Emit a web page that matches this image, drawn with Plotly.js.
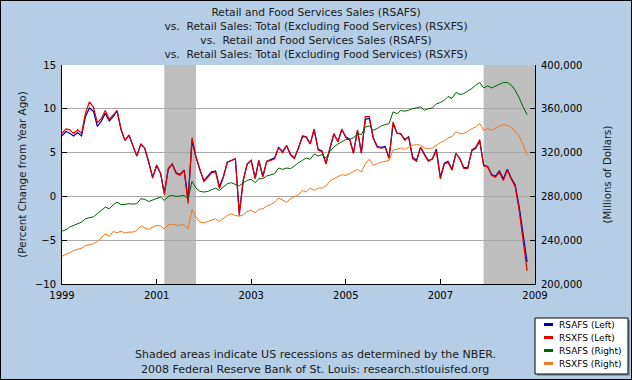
<!DOCTYPE html>
<html>
<head>
<meta charset="utf-8">
<script src="https://cdn.plot.ly/plotly-3.0.1.min.js"></script>
<style>
html,body{margin:0;padding:0;background:#B5CDE5;}
#chart{width:630px;height:378px;border:1px solid #000;}
</style>
</head>
<body>
<div id="chart"></div>
<script>
// ---------- DATA ----------
const startMonth = '1999-01'; // monthly observations, Jan 1999 .. Nov 2008
const rsafsPct = [6.9,7.4,7.2,6.9,7.3,6.9,9.1,10.1,9.7,8.0,8.6,9.5,
  8.6,9.1,9.8,7.6,6.4,7.0,5.8,4.6,6.0,5.5,3.9,2.2,
  3.5,2.6,0.4,3.1,3.7,2.7,2.5,3.0,-0.3,6.3,4.5,3.0,
  1.8,2.3,2.8,2.9,1.1,2.3,3.9,4.1,4.3,-1.9,1.9,3.7,
  4.1,2.1,4.1,2.3,4.0,4.2,4.4,5.6,5.1,5.8,4.8,4.4,
  5.5,6.9,6.8,6.0,7.6,5.4,5.2,3.8,5.6,7.1,6.3,7.6,
  6.8,6.5,5.0,7.5,5.0,8.8,8.9,6.7,5.7,5.6,5.7,4.4,
  8.3,7.2,7.1,6.5,6.8,4.5,4.1,5.6,4.8,4.1,4.3,5.4,
  2.2,3.8,4.0,3.1,4.9,4.3,3.3,3.3,5.2,5.5,6.3,3.6,
  3.4,2.5,2.3,2.9,2.0,3.1,2.1,1.3,-1.2,-4.3,-7.5];
const rsxfsPct = [7.2,7.7,7.6,7.2,7.6,7.2,9.5,10.8,10.2,8.4,8.9,9.8,
  8.8,9.3,9.8,7.7,6.4,7.0,5.8,4.6,6.0,5.5,3.9,2.1,
  3.6,2.6,0.2,3.2,3.7,2.6,2.4,3.0,-0.8,6.7,4.5,3.0,
  1.7,2.2,2.7,2.8,0.9,2.2,3.9,4.1,4.3,-2.2,1.8,3.7,
  4.1,2.0,4.1,2.2,4.0,4.1,4.3,5.6,5.0,5.8,4.7,4.3,
  5.5,6.8,6.8,6.0,7.7,5.3,5.1,3.7,5.6,7.2,6.2,7.7,
  6.7,6.4,4.9,7.6,4.9,9.1,9.1,6.6,5.6,5.5,5.6,4.3,
  8.5,7.2,7.2,6.4,6.8,4.3,4.0,5.6,4.7,4.0,4.3,5.2,
  2.0,3.7,3.9,3.0,4.9,4.3,3.2,3.2,5.3,5.6,6.5,3.5,
  3.4,2.4,2.2,2.8,1.8,3.0,2.0,1.1,-1.6,-4.8,-8.5];
const rsafsLevel = [248300,249500,252000,253500,255600,256500,259600,260200,261400,264100,267200,270200,
  268700,272400,274800,272400,272700,273300,273000,273300,277900,277300,275400,276600,
  278500,279400,276300,280000,280900,280000,280300,280900,277900,293700,287600,284600,
  284000,284600,286100,287600,285500,288500,291600,292500,290700,289500,292500,294600,
  295600,292500,296200,296200,298600,299800,300700,305900,304700,305900,305300,307800,
  310800,312900,315100,313900,318700,316900,318100,315100,321200,325100,327900,329700,
  331900,332200,333400,337300,336400,343400,344400,340400,341900,344400,345600,346500,
  357200,355600,358400,357800,358700,360200,360800,361700,358700,360200,360800,364500,
  365700,367800,371200,369400,374900,373000,373900,376100,378500,381600,384000,379100,
  380900,379100,380900,382200,384000,384000,381600,377000,370000,361700,354700];
const rsxfsLevel = [225400,226900,228500,230600,231500,232700,235200,236100,236700,238800,242800,245800,
  243700,248000,246800,248300,246500,247400,247400,248900,252900,251300,249800,251900,
  253500,252900,250400,254100,254700,253500,253500,254100,250400,268100,261100,256500,
  255900,257100,258000,259600,257100,260200,262600,264100,262600,262000,263200,266300,
  267200,265100,268100,268700,271200,272400,274800,278500,276300,274800,277900,279400,
  281500,285500,284000,287600,285500,287600,287600,289500,294300,296200,297700,299800,
  299200,300700,302900,304700,302300,309900,313900,308400,309900,311400,312000,312900,
  322100,323000,324200,323000,324800,326700,327300,326700,324200,323600,324200,326700,
  329100,330900,333400,334600,338900,337300,337300,339500,341900,343400,346500,340400,
  341900,340400,342500,344100,345600,344900,343100,339500,335200,327300,316900];
const recessionStart = ['2001-03-01','2007-12-01'];
const recessionEnd   = ['2001-11-01','2009-01-01'];
const xTickVals = ['1999-01-01','2001-01-01','2003-01-01','2005-01-01','2007-01-01','2009-01-01'];
const xTickText = ['1999','2001','2003','2005','2007','2009'];
const yLeftTicks = [-10,-5,0,5,10,15];
const yRightTicks = [200000,240000,280000,320000,360000,400000];
const yRightText = ['200,000','240,000','280,000','320,000','360,000','400,000'];
const seriesNames = ['RSAFS (Left)','RSXFS (Left)','RSAFS (Right)','RSXFS (Right)'];
const seriesColors = ['#0000AA','#E00000','#006400','#F07820'];
const titleLines = ['Retail and Food Services Sales (RSAFS)',
  'vs.\u00a0 Retail Sales: Total (Excluding Food Services) (RSXFS)',
  'vs.\u00a0 Retail and Food Services Sales (RSAFS)',
  'vs.\u00a0 Retail Sales: Total (Excluding Food Services) (RSXFS)'];
const noteLines = ['Shaded areas indicate US recessions as determined by the NBER.',
  '2008 Federal Reserve Bank of St. Louis: research.stlouisfed.org'];

// ---------- BUILD ----------
const dates = [];
(function(){
  let y = +startMonth.slice(0,4), m = +startMonth.slice(5,7);
  for (let i = 0; i < rsafsPct.length; i++) {
    dates.push(y + '-' + String(m).padStart(2,'0') + '-01');
    m++; if (m > 12) { m = 1; y++; }
  }
})();

const W = 630, H = 378;
const M = {l:61, r:96, t:64, b:95};
const pw = W - M.l - M.r, ph = H - M.t - M.b;
// page pixel -> paper coordinates (div is offset by 1px border)
const px = x => (x - 1 - M.l) / pw;
const py = y => (M.t + ph - (y - 1)) / ph;

const FONT = 'DejaVu Sans, Verdana, sans-serif';

const traces = [
  {x: dates, y: rsafsLevel, yaxis:'y2', name: seriesNames[2], line:{color:seriesColors[2], width:1}},
  {x: dates, y: rsxfsLevel, yaxis:'y2', name: seriesNames[3], line:{color:seriesColors[3], width:1}},
  {x: dates, y: rsafsPct, yaxis:'y', name: seriesNames[0], line:{color:seriesColors[0], width:1.2}},
  {x: dates, y: rsxfsPct, yaxis:'y', name: seriesNames[1], line:{color:seriesColors[1], width:1.2}}
].map(t => Object.assign({type:'scatter', mode:'lines', showlegend:false, hoverinfo:'skip'}, t));

const shapes = [];
for (let i = 0; i < recessionStart.length; i++) {
  shapes.push({type:'rect', xref:'x', yref:'paper', x0:recessionStart[i], x1:recessionEnd[i], y0:0, y1:1,
    fillcolor:'#BEBEBE', line:{width:0}, layer:'between'});
}
// legend box with shadow
const lg = {x0:535, x1:628, y0:318, y1:374};
shapes.push({type:'rect', xref:'paper', yref:'paper', x0:px(lg.x0+2), x1:px(lg.x1+2), y0:py(lg.y1+2), y1:py(lg.y0+2),
  fillcolor:'#8C9AA8', line:{width:0}, layer:'above'});
shapes.push({type:'rect', xref:'paper', yref:'paper', x0:px(lg.x0), x1:px(lg.x1), y0:py(lg.y1), y1:py(lg.y0),
  fillcolor:'#FFFFFF', line:{color:'#000', width:1}, layer:'above'});
const legendOrder = [0,1,2,3];
const rowY = [324.5, 337.5, 350.5, 363.5];
const annotations = [];
legendOrder.forEach((s, i) => {
  shapes.push({type:'line', xref:'paper', yref:'paper', x0:px(544), x1:px(553), y0:py(rowY[i]), y1:py(rowY[i]),
    line:{color:seriesColors[s], width:3}, layer:'above'});
  annotations.push({xref:'paper', yref:'paper', x:px(557), y:py(rowY[i]), xanchor:'left', yanchor:'middle',
    text:seriesNames[s], showarrow:false, font:{family:FONT, size:9, color:'#000'}});
});
annotations.push({xref:'paper', yref:'paper', x:px(315), y:py(354), xanchor:'center', yanchor:'middle',
  text:noteLines[0], showarrow:false, font:{family:FONT, size:11, color:'#202020'}});
annotations.push({xref:'paper', yref:'paper', x:px(315), y:py(369), xanchor:'center', yanchor:'middle',
  text:noteLines[1], showarrow:false, font:{family:FONT, size:11, color:'#202020'}});

const axisCommon = {ticks:'inside', ticklen:5, tickcolor:'#000', tickwidth:1, showline:true, linecolor:'#000',
  linewidth:1, zeroline:false, tickfont:{family:FONT, size:10, color:'#000'}, fixedrange:true};

const layout = {
  width: W, height: H, margin: M,
  paper_bgcolor:'#B5CDE5', plot_bgcolor:'#FFFFFF',
  font:{family:FONT, color:'#000'},
  title:{text:titleLines.join('<br>'), font:{family:FONT, size:10.7, color:'#202020'},
    x:0.5, xref:'container', xanchor:'center', y:1-15/H, yref:'container', yanchor:'top'},
  xaxis: Object.assign({}, axisCommon, {type:'date', range:['1999-01-01','2009-01-01'],
    tickmode:'array', tickvals:xTickVals, ticktext:xTickText, showgrid:false, ticklabelstandoff:2}),
  yaxis: Object.assign({}, axisCommon, {range:[-10,15], tickmode:'array', tickvals:yLeftTicks,
    showgrid:true, gridcolor:'#A8A8A8', gridwidth:1, ticklabelstandoff:3,
    title:{text:'(Percent Change from Year Ago)', font:{family:FONT, size:10.4, color:'#202020'}, standoff:6}}),
  yaxis2: Object.assign({}, axisCommon, {overlaying:'y', side:'right', range:[200000,400000], tickmode:'array',
    tickvals:yRightTicks, ticktext:yRightText, showgrid:false, ticklabelstandoff:3,
    title:{text:'(Millions of Dollars)', font:{family:FONT, size:10.2, color:'#202020'}, standoff:22}}),
  shapes: shapes, annotations: annotations, showlegend:false
};

Plotly.newPlot('chart', traces, layout, {staticPlot:true, displayModeBar:false});
</script>
</body>
</html>
